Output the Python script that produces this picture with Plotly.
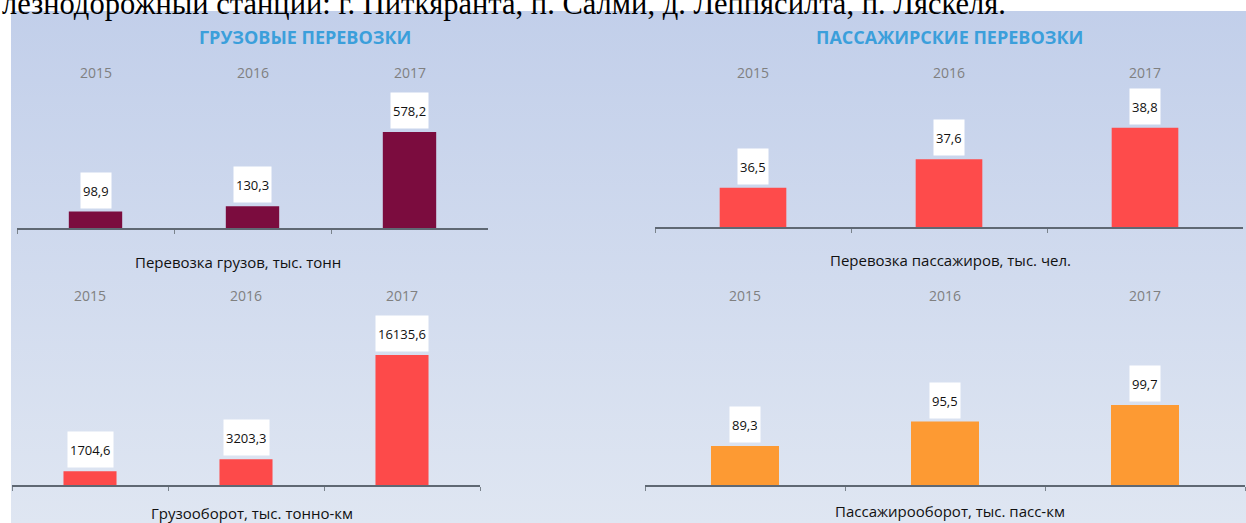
import base64
import plotly.graph_objects as go

# ---------------- data ----------------
years = ["2015", "2016", "2017"]
freight_tonnes = [98.9, 130.3, 578.2]          # Перевозка грузов, тыс. тонн
passengers = [36.5, 37.6, 38.8]                # Перевозка пассажиров, тыс. чел.
freight_turnover = [1704.6, 3203.3, 16135.6]   # Грузооборот, тыс. тонно-км
passenger_turnover = [89.3, 95.5, 99.7]        # Пассажирооборот, тыс. пасс-км

panel_titles = ["ГРУЗОВЫЕ ПЕРЕВОЗКИ", "ПАССАЖИРСКИЕ ПЕРЕВОЗКИ"]
axis_titles = ["Перевозка грузов, тыс. тонн", "Перевозка пассажиров, тыс. чел.",
               "Грузооборот, тыс. тонно-км", "Пассажирооборот, тыс. пасс-км"]
header_text = "лезнодорожный станции: г. Питкяранта, п. Салми, д. Леппясилта, п. Ляскеля."

# ---------------- layout helpers ----------------
W, H = 1246, 523
def px(x):
    return x / W
def py(y):
    return 1 - y / H

FONT = "Open Sans"

# per-panel styling: values, colour, x pixel span, baseline px, top px, y min, px per unit,
# axis-title centre, year-label y
panels = [
    dict(vals=freight_tonnes, color="#7b0c3e", x0=17, x1=488, base=228, top=80, ymin=0, ppu=0.166,
         tx=238, ty=262, yl=72),
    dict(vals=passengers, color="#fe4b4b", x0=655, x1=1243, base=227, top=80, ymin=35, ppu=26.1,
         tx=950, ty=260, yl=72),
    dict(vals=freight_turnover, color="#fd4a4a", x0=12, x1=480, base=485, top=305, ymin=0, ppu=0.00806,
         tx=252, ty=513, yl=295),
    dict(vals=passenger_turnover, color="#fd9a33", x0=645, x1=1245, base=485, top=305, ymin=79.4, ppu=3.94,
         tx=950, ty=511, yl=295),
]

fig = go.Figure()
annotations = []
layout_axes = {}

for i, p in enumerate(panels, start=1):
    xa = "x" if i == 1 else f"x{i}"
    ya = "y" if i == 1 else f"y{i}"
    xkey = "xaxis" if i == 1 else f"xaxis{i}"
    ykey = "yaxis" if i == 1 else f"yaxis{i}"
    ymax = p["ymin"] + (p["base"] - p["top"]) / p["ppu"]
    fig.add_trace(go.Bar(x=years, y=p["vals"], xaxis=xa, yaxis=ya, width=0.34,
                         marker=dict(color=p["color"], line=dict(width=0)),
                         hoverinfo="x+y", showlegend=False))
    layout_axes[xkey] = dict(domain=[px(p["x0"]), px(p["x1"])], anchor=ya,
                             type="category", range=[-0.5, 2.5],
                             showline=True, linecolor="#5f6873", linewidth=1.5,
                             ticks="outside", tickson="boundaries", ticklen=4,
                             tickcolor="#7a838c", tickwidth=1,
                             showticklabels=False, showgrid=False, zeroline=False,
                             fixedrange=True)
    layout_axes[ykey] = dict(domain=[py(p["base"]), py(p["top"])], anchor=xa,
                             range=[p["ymin"], ymax], visible=False,
                             showgrid=False, zeroline=False, fixedrange=True)
    # value labels in white boxes (category index positions on the axis)
    for j, v in enumerate(p["vals"]):
        annotations.append(dict(xref=xa, yref=ya, x=j, y=v, xanchor="center", yanchor="bottom",
                                yshift=3, text=f"{v:.1f}".replace(".", ","), showarrow=False,
                                bgcolor="white", height=31, borderpad=2,
                                font=dict(family=FONT, size=13, color="#111111")))
    # year labels
    for j, yr in enumerate(years):
        annotations.append(dict(xref=xa, yref="paper", x=j, y=py(p["yl"]), xanchor="center",
                                yanchor="middle", text=yr, showarrow=False,
                                font=dict(family=FONT, size=14, color="#808080")))
    # axis title
    annotations.append(dict(xref="paper", yref="paper", x=px(p["tx"]), y=py(p["ty"]),
                            xanchor="center", yanchor="middle", text=axis_titles[i - 1],
                            showarrow=False,
                            font=dict(family=FONT, size=15, color="#111111")))

# panel titles
for t, cx in zip(panel_titles, [305, 949]):
    annotations.append(dict(xref="paper", yref="paper", x=px(cx), y=py(37), xanchor="center",
                            yanchor="middle", text=f"<b>{t}</b>", showarrow=False,
                            font=dict(family=FONT, size=18, color="#3b9fdb")))

# cut-off header line of the surrounding document
annotations.append(dict(xref="paper", yref="paper", x=0, y=1, xanchor="left", yanchor="top",
                        yshift=15, text=header_text, showarrow=False,
                        font=dict(family="Liberation Serif", size=30.5, color="black")))

# gradient background panel as an inline SVG image
svg = ('<svg xmlns="http://www.w3.org/2000/svg" width="100" height="100" preserveAspectRatio="none">'
       '<defs><linearGradient id="g" x1="0" y1="0" x2="0" y2="1">'
       '<stop offset="0" stop-color="#c2cfea"/><stop offset="1" stop-color="#dfe6f2"/>'
       '</linearGradient></defs><rect width="100" height="100" fill="url(#g)"/></svg>')
src = "data:image/svg+xml;base64," + base64.b64encode(svg.encode()).decode()

fig.update_layout(
    width=W, height=H, margin=dict(l=0, r=0, t=0, b=0),
    paper_bgcolor="white", plot_bgcolor="rgba(0,0,0,0)",
    showlegend=False, annotations=annotations,
    images=[dict(source=src, xref="paper", yref="paper", x=px(11), y=py(11),
                 sizex=px(W) - px(11), sizey=py(11), xanchor="left", yanchor="top",
                 sizing="stretch", layer="below")],
    **layout_axes,
)

fig.write_html("out.html", config={"displayModeBar": False},
               post_script="document.body.style.margin='0';document.body.style.overflow='hidden';")
